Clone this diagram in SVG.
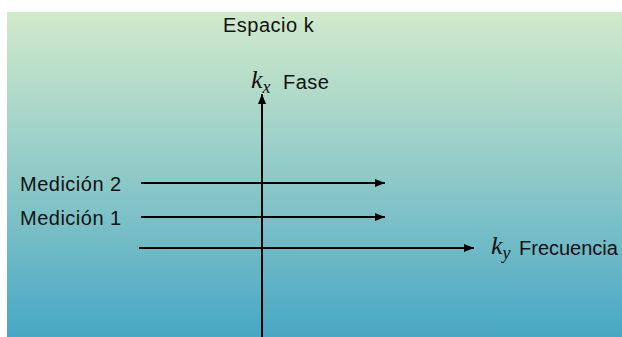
<svg xmlns="http://www.w3.org/2000/svg" width="622" height="337" viewBox="0 0 622 337">
<defs>
<linearGradient id="bg" x1="0" y1="0" x2="0" y2="1">
<stop offset="0" stop-color="#d1eacb"/>
<stop offset="0.5" stop-color="#8fcac8"/>
<stop offset="1" stop-color="#47a7c4"/>
</linearGradient>
<marker id="ah" viewBox="0 0 10 8" refX="10" refY="4" markerWidth="10" markerHeight="8" markerUnits="userSpaceOnUse" orient="auto">
<path d="M0,0 L10,4 L0,8 Z" fill="#000"/>
</marker>
<style>
.lbl{font-family:"Liberation Sans",Arial,sans-serif;font-size:20px;letter-spacing:0.5px;fill:#111}
.math{font-family:"Liberation Serif","Times New Roman",serif;font-style:italic;fill:#111}
.ax{stroke:#000;stroke-width:2;fill:none;marker-end:url(#ah)}
</style>
</defs>
<rect x="0" y="0" width="622" height="337" fill="#fff"/>
<rect x="7" y="12" width="615" height="325" fill="url(#bg)"/>
<g id="title"><text class="lbl" x="223" y="32">Espacio k</text></g>
<g id="connectors">
<line class="ax" x1="262" y1="337" x2="262" y2="94"/>
<line class="ax" x1="139" y1="248" x2="474" y2="248"/>
<line class="ax" x1="141" y1="183" x2="385" y2="183"/>
<line class="ax" x1="141" y1="217" x2="385" y2="217"/>
</g>
<g id="kx"><text class="math" x="251" y="88" font-size="26">k<tspan font-size="18" dy="5">x</tspan></text><text class="lbl" x="283" y="89">Fase</text></g>
<g id="ky"><text class="math" x="491" y="254" font-size="26">k<tspan font-size="18" dy="5">y</tspan></text><text class="lbl" x="519" y="255" style="letter-spacing:0">Frecuencia</text></g>
<g id="m2"><text class="lbl" x="20" y="191">Medición 2</text></g>
<g id="m1"><text class="lbl" x="20" y="225">Medición 1</text></g>
</svg>
